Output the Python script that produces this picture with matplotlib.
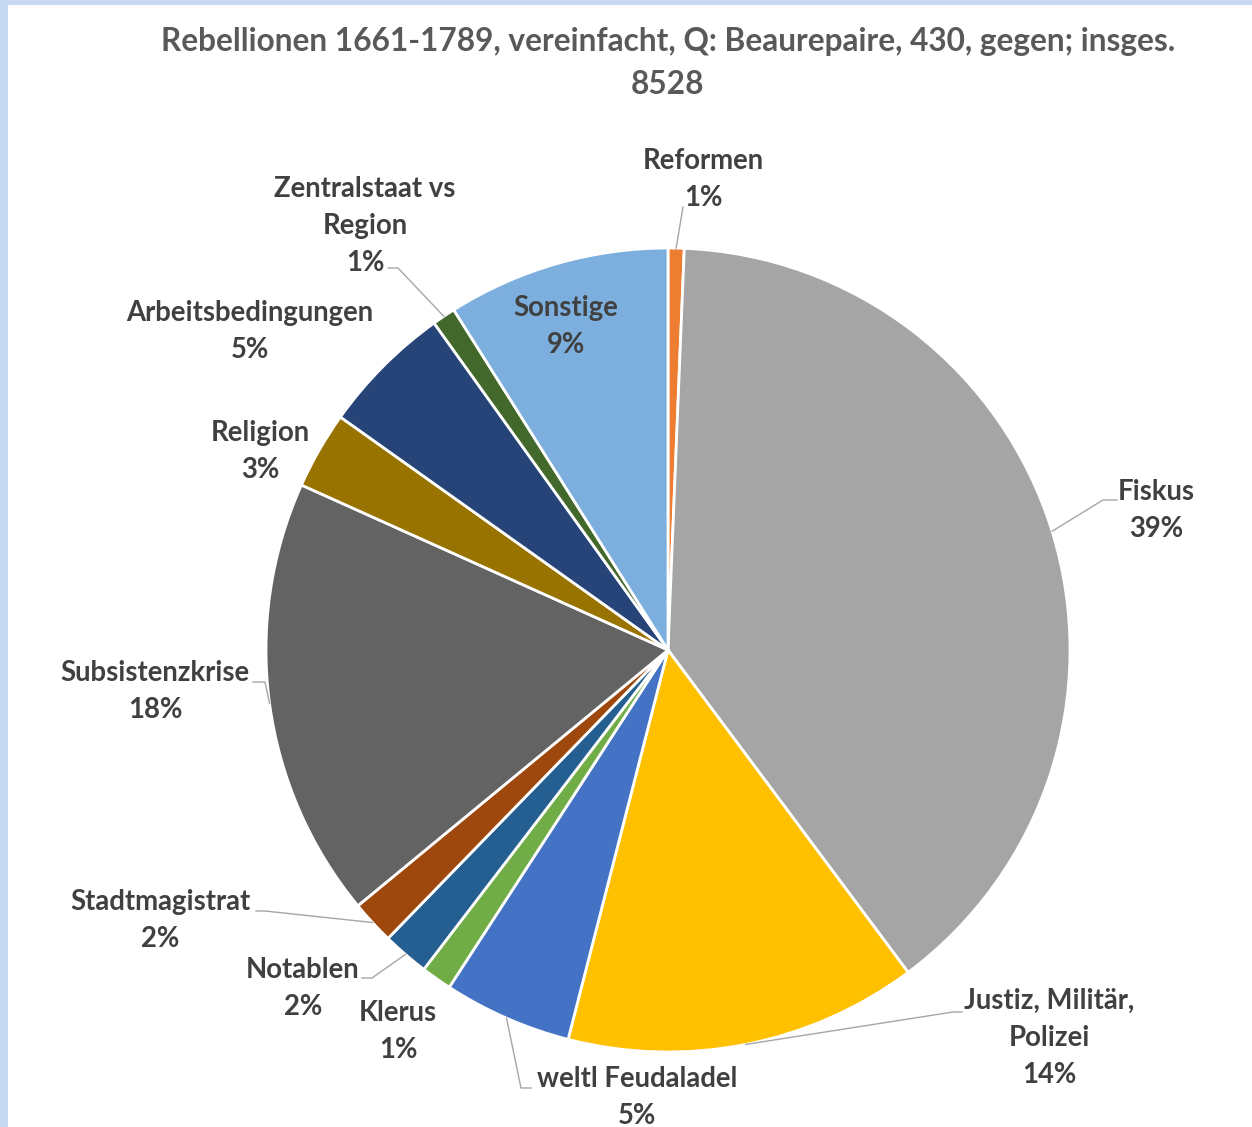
import matplotlib
matplotlib.use("Agg")
import matplotlib.pyplot as plt
from matplotlib.patches import Rectangle
import numpy as np

# ---- data ----
categories = ["Reformen", "Fiskus", "Justiz, Militär, Polizei", "weltl Feudaladel",
              "Klerus", "Notablen", "Stadtmagistrat", "Subsistenzkrise",
              "Religion", "Arbeitsbedingungen", "Zentralstaat vs Region", "Sonstige"]
counts = [55, 3340, 1210, 440, 105, 160, 150, 1510, 265, 450, 80, 763]
label_lines = [["Reformen"], ["Fiskus"], ["Justiz, Militär,", "Polizei"],
               ["weltl Feudaladel"], ["Klerus"], ["Notablen"], ["Stadtmagistrat"],
               ["Subsistenzkrise"], ["Religion"], ["Arbeitsbedingungen"],
               ["Zentralstaat vs", "Region"], ["Sonstige"]]
colors = ["#ED7D31", "#A5A5A5", "#FFC000", "#4472C4", "#70AD47", "#255E91",
          "#9E480E", "#636363", "#997300", "#264478", "#43682B", "#7CAFDD"]
title_lines = ["Rebellionen 1661-1789, vereinfacht, Q: Beaurepaire, 430, gegen; insges.", "8528"]

# ---- layout (pixel coordinates, y downward) ----
W, H = 1252, 1127
CX, CY, R = 668, 650, 402
LINE = 37
# first-line centre of each label, and leader elbow/end points (or None)
label_pos = [(703, 161), (1156, 492), (1049, 1001), (637, 1079), (398, 1013),
             (303, 970), (160, 902), (155, 673), (260, 433), (250, 313),
             (365, 189), (566, 308)]
leaders = [[(683, 207)], [(1103, 500), (1117, 500)], [(953, 1012), (962, 1012)],
           [(521, 1088), (531, 1088)], None, [(372, 978), (362, 978)],
           [(265, 911), (256, 911)], [(265, 682), (253, 682)], None, None,
           [(398, 268), (388, 268)], None]

FONT = "Lato"
TXT = "#404040"

def P(x, y):
    return (x, H - y)

fig = plt.figure(figsize=(W / 100, H / 100), dpi=100)
fig.patch.set_facecolor("white")
ax = fig.add_axes([0, 0, 1, 1])

wedges, _ = ax.pie(counts, colors=colors, startangle=90, counterclock=False,
                   center=P(CX, CY), radius=R,
                   wedgeprops=dict(edgecolor="white", linewidth=2))
ax.set_xlim(0, W)
ax.set_ylim(0, H)
ax.set_aspect("equal")
ax.axis("off")

total = sum(counts)
cx, cy = P(CX, CY)
for i, w in enumerate(wedges):
    pct = f"{round(100 * counts[i] / total)}%"
    lines = label_lines[i] + [pct]
    lx, ly = label_pos[i]
    for k, s in enumerate(lines):
        ax.text(*P(lx, ly + k * LINE), s, ha="center", va="center",
                fontsize=19.8, fontweight="bold", family=FONT, color=TXT, zorder=5)
    if leaders[i] is not None:
        th = np.deg2rad((w.theta1 + w.theta2) / 2)
        pts = [(cx + R * np.cos(th), cy + R * np.sin(th))] + [P(*p) for p in leaders[i]]
        xs, ys = zip(*pts)
        ax.plot(xs, ys, color="#A6A6A6", lw=1.0, zorder=4)

for k, s in enumerate(title_lines):
    ax.text(*P(668, 42 + k * 42), s, ha="center", va="center", fontsize=22.8,
            fontweight="bold", family=FONT, color="#595959")

# window frame bands
fig.patches.append(Rectangle((0, 0), 8 / W, 1, transform=fig.transFigure,
                             facecolor="#C6D9F0", edgecolor="none", zorder=10))
fig.patches.append(Rectangle((0, 1 - 5 / H), 1, 5 / H, transform=fig.transFigure,
                             facecolor="#C6D9F0", edgecolor="none", zorder=10))

fig.savefig("out.png", dpi=100)
